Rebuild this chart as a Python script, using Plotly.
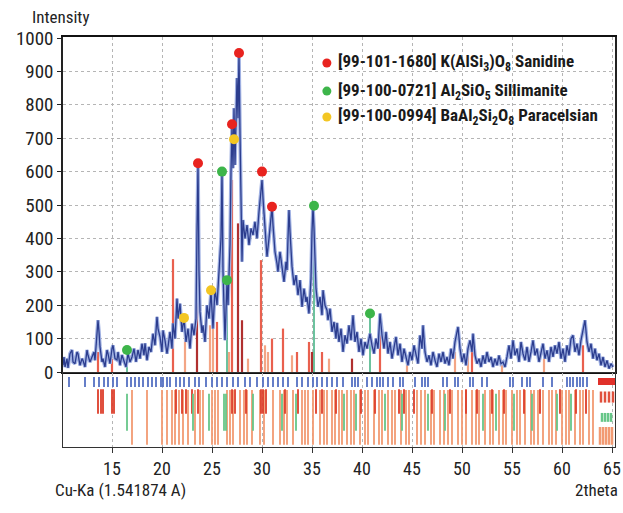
import plotly.graph_objects as go
from plotly.subplots import make_subplots

two_theta = [10.1, 10.2, 10.3, 10.5, 10.6, 10.8, 11.0, 11.1, 11.3, 11.5, 11.6, 11.8, 12.0, 12.1, 12.3,
             12.5, 12.6, 12.8, 13.0, 13.2, 13.3, 13.5, 13.6, 13.7, 13.8, 14.0, 14.1, 14.3, 14.5, 14.6,
             14.8, 15.0, 15.1, 15.3, 15.5, 15.6, 15.8, 16.0, 16.2, 16.4, 16.6, 16.8, 17.0, 17.2, 17.4,
             17.6, 17.8, 18.0, 18.2, 18.3, 18.5, 18.7, 18.9, 19.1, 19.3, 19.5, 19.6, 19.8, 20.0, 20.1,
             20.3, 20.5, 20.6, 20.8, 21.0, 21.1, 21.3, 21.5, 21.6, 21.8, 22.0, 22.2, 22.4, 22.6, 22.8,
             23.0, 23.2, 23.4, 23.5, 23.6, 23.7, 23.8, 24.0, 24.1, 24.3, 24.5, 24.7, 24.9, 25.1, 25.3,
             25.5, 25.7, 25.9, 26.0, 26.1, 26.3, 26.5, 26.6, 26.8, 26.9, 27.0, 27.1, 27.2, 27.3, 27.5,
             27.6, 27.7, 27.8, 27.9, 28.0, 28.1, 28.3, 28.5, 28.7, 28.9, 29.1, 29.3, 29.5, 29.7, 29.9,
             30.0, 30.1, 30.3, 30.5, 30.7, 30.9, 31.0, 31.1, 31.3, 31.5, 31.6, 31.8, 32.0, 32.2, 32.4,
             32.5, 32.6, 32.7, 32.8, 33.0, 33.2, 33.4, 33.6, 33.8, 34.0, 34.2, 34.4, 34.5, 34.7, 34.9,
             35.0, 35.1, 35.2, 35.4, 35.6, 35.8, 36.0, 36.1, 36.3, 36.5, 36.6, 36.8, 37.0, 37.2, 37.4,
             37.5, 37.7, 37.9, 38.1, 38.3, 38.5, 38.7, 38.9, 39.1, 39.3, 39.5, 39.7, 39.9, 40.1, 40.3,
             40.5, 40.7, 40.8, 41.0, 41.2, 41.4, 41.6, 41.8, 42.0, 42.2, 42.4, 42.6, 42.8, 43.0, 43.2,
             43.4, 43.6, 43.8, 44.0, 44.2, 44.4, 44.6, 44.8, 45.0, 45.2, 45.4, 45.6, 45.8, 46.0, 46.1,
             46.3, 46.5, 46.7, 46.9, 47.1, 47.3, 47.5, 47.7, 47.9, 48.1, 48.3, 48.5, 48.7, 48.9, 49.1,
             49.3, 49.5, 49.6, 49.8, 50.0, 50.2, 50.4, 50.6, 50.8, 51.0, 51.1, 51.3, 51.5, 51.7, 51.9,
             52.1, 52.3, 52.5, 52.7, 52.9, 53.1, 53.3, 53.5, 53.7, 53.9, 54.1, 54.3, 54.5, 54.7, 54.9,
             55.1, 55.3, 55.5, 55.7, 55.9, 56.1, 56.3, 56.5, 56.7, 56.9, 57.1, 57.3, 57.5, 57.7, 57.9,
             58.1, 58.3, 58.5, 58.7, 58.9, 59.1, 59.3, 59.5, 59.7, 59.9, 60.1, 60.3, 60.5, 60.7, 60.9,
             61.1, 61.3, 61.5, 61.7, 61.9, 62.1, 62.3, 62.5, 62.7, 62.9, 63.1, 63.3, 63.5, 63.7, 63.9,
             64.1, 64.3, 64.5, 64.7, 64.9, 65.1]
intensity = [20, 45, 15, 40, 12, 55, 66, 30, 25, 60, 55, 20, 40, 35, 15,
             66, 50, 30, 45, 60, 35, 110, 155, 120, 75, 30, 40, 15, 66, 55,
             25, 70, 80, 40, 36, 60, 20, 51, 35, 15, 55, 30, 45, 70, 30,
             66, 40, 85, 50, 86, 35, 75, 60, 115, 80, 165, 130, 105, 60, 125,
             95, 55, 75, 120, 70, 146, 100, 220, 160, 205, 120, 160, 90, 130, 70,
             145, 110, 160, 420, 620, 300, 180, 117, 140, 90, 200, 160, 240, 130, 250,
             200, 320, 400, 598, 300, 95, 270, 200, 380, 600, 738, 610, 790, 620, 880,
             760, 950, 715, 500, 330, 455, 400, 440, 380, 430, 410, 450, 400, 480, 540,
             575, 520, 420, 345, 400, 470, 493, 440, 360, 325, 300, 360, 316, 270, 330,
             305, 400, 485, 420, 316, 260, 290, 230, 275, 195, 250, 210, 225, 175, 280,
             420, 495, 430, 250, 195, 225, 170, 245, 200, 185, 155, 190, 120, 150, 100,
             147, 90, 130, 60, 110, 85, 140, 95, 170, 90, 120, 60, 100, 50, 90,
             70, 100, 115, 80, 55, 100, 70, 175, 110, 70, 120, 55, 90, 40, 75,
             105, 50, 85, 30, 70, 45, 20, 60, 35, 80, 50, 25, 110, 70, 140,
             60, 30, 50, 20, 60, 35, 15, 55, 30, 60, 25, 45, 20, 70, 40,
             90, 130, 135, 70, 30, 55, 20, 70, 95, 60, 115, 50, 25, 40, 15,
             50, 25, 60, 30, 45, 15, 40, 20, 50, 25, 30, 15, 45, 80, 40,
             95, 50, 70, 30, 90, 55, 35, 75, 30, 60, 95, 50, 70, 30, 60,
             85, 40, 65, 30, 75, 45, 80, 55, 90, 40, 70, 30, 80, 50, 100,
             110, 60, 85, 50, 95, 130, 155, 90, 60, 85, 40, 70, 35, 55, 20,
             45, 15, 35, 10, 25, 15]

# ---------------- identified phases (marker positions) ----------------
san_x = [23.6, 27.0, 27.7, 30.0, 31.0]
san_y = [625, 742, 955, 600, 495]
sil_x = [16.5, 26.0, 26.5, 35.2, 40.8]
sil_y = [66, 600, 275, 498, 175]
par_x = [22.2, 24.9, 27.2]
par_y = [162, 245, 697]
legend_labels = ["[99-101-1680] K(AlSi<sub>3</sub>)O<sub>8</sub> Sanidine",
                 "[99-100-0721] Al<sub>2</sub>SiO<sub>5</sub> Sillimanite",
                 "[99-100-0994] BaAl<sub>2</sub>Si<sub>2</sub>O<sub>8</sub> Paracelsian"]
legend_colors = ["#e8231f", "#3db54a", "#f3c623"]

# reference sticks in main panel
red_stick_x = [13.6, 15.0, 21.1, 25.5, 27.0, 29.9, 31.0, 32.1, 33.5, 34.7, 36.0, 41.8, 51.0, 62.1]
red_stick_y = [60, 40, 338, 150, 575, 335, 100, 130, 60, 90, 60, 160, 70, 80]
dred_stick_x = [23.5, 27.6, 28.0, 35.0, 39.0]
dred_stick_y = [445, 445, 155, 60, 40]
orange_stick_x = [22.3, 24.8, 25.1, 26.7, 28.6, 30.3, 30.6, 33.0, 36.7, 44.5, 49.3, 50.6, 54.0, 58.2]
orange_stick_y = [110, 140, 130, 60, 40, 80, 60, 50, 40, 40, 60, 80, 30, 40]
green_stem_x = [16.5, 26.5, 35.2, 40.8]
green_stem_y = [66, 275, 498, 175]

# lower reference panel
blue_ticks = [10.7, 12.3, 13.2, 13.7, 14.2, 14.6, 15.1, 15.5, 16.5, 16.9, 17.3, 17.7, 18.1, 18.6, 19.0,
              19.4, 19.9, 20.1, 20.5, 20.8, 21.4, 21.8, 22.2, 22.7, 23.3, 23.7, 24.4, 25.0, 25.5, 26.0,
              26.5, 27.1, 27.6, 28.3, 28.8, 29.5, 30.1, 30.6, 31.1, 31.6, 32.1, 32.6, 33.5, 34.0, 34.6,
              35.1, 35.5, 36.0, 36.5, 37.0, 37.5, 38.1, 39.0, 39.3, 39.6, 40.5, 41.0, 41.5, 41.8, 42.1,
              42.6, 43.1, 43.8, 44.1, 45.3, 46.0, 46.3, 46.6, 48.1, 48.5, 49.3, 49.6, 50.8, 51.1, 52.0,
              52.5, 54.8, 55.1, 56.0, 56.5, 56.8, 58.1, 59.0, 60.5, 60.8, 61.1, 61.5, 61.8, 62.1, 62.5]
orange_ref = [17.0, 18.5, 20.0, 20.5, 21.0, 21.3, 21.7, 22.1, 22.6, 23.3, 23.8, 24.1, 25.0, 25.3, 25.6,
              26.5, 26.8, 27.1, 27.8, 28.2, 28.5, 29.0, 29.8, 30.2, 31.1, 31.8, 32.2, 32.5, 33.1, 34.0,
              34.3, 34.6, 35.1, 35.8, 36.2, 36.5, 37.0, 37.3, 37.7, 38.0, 38.5, 38.9, 39.2, 39.8, 40.3,
              40.6, 41.2, 41.7, 42.0, 42.6, 43.0, 43.3, 43.9, 44.4, 44.7, 45.5, 45.9, 46.3, 46.9, 47.2,
              47.8, 48.2, 48.6, 49.0, 49.6, 50.0, 50.4, 51.0, 51.4, 51.7, 52.3, 52.8, 53.1, 53.7, 54.1,
              54.4, 55.0, 55.5, 55.8, 56.3, 56.9, 57.2, 57.6, 58.1, 58.7, 59.0, 59.4, 60.0, 60.4, 60.7,
              61.3, 61.8, 62.1, 62.7, 63.1]
red_ref = [13.6, 13.9, 14.1, 15.0, 15.2, 21.4, 22.0, 22.4, 23.0, 23.6, 27.0, 27.3, 28.4, 29.9, 30.1,
           30.4, 32.3, 33.6, 35.4, 36.0, 37.4, 39.9, 41.3, 43.7, 44.2, 45.2, 47.0, 48.8, 50.4, 51.5,
           53.0, 54.2, 56.2, 57.8, 59.8, 61.4, 62.4]
green_ref = [16.5, 23.1, 24.7, 26.2, 26.4, 29.1, 32.0, 33.4, 38.2, 39.4, 42.3, 44.0, 46.6, 48.3, 52.1,
             53.4, 55.2, 57.0, 59.5, 60.9]
key_red_bar = [63.6, 65.3]
key_red_ticks = [63.9, 64.3, 64.7, 65.1]
key_green_ticks = [64.0, 64.3, 64.6, 64.9]
key_orange_ticks = [63.8, 64.1, 64.4, 64.7, 65.0]

FONT = "Roboto Condensed, Liberation Sans Narrow, Arial Narrow, Roboto, sans-serif"


def sticks(xs, y0, y1s):
    xx, yy = [], []
    for i, x in enumerate(xs):
        top = y1s[i] if isinstance(y1s, list) else y1s
        xx += [x, x, None]
        yy += [y0, top, None]
    return xx, yy


fig = make_subplots(rows=2, cols=1, shared_xaxes=True)

# reference sticks (top panel)
for xs, ys, col, w in [(orange_stick_x, orange_stick_y, "#f3a585", 2.2),
                       (red_stick_x, red_stick_y, "#e9604e", 2.2),
                       (dred_stick_x, dred_stick_y, "#b0302f", 2.2),
                       (green_stem_x, green_stem_y, "#48b386", 1.6)]:
    sx, sy = sticks(xs, 0, ys)
    fig.add_trace(go.Scatter(x=sx, y=sy, mode="lines", line=dict(color=col, width=w),
                             hoverinfo="skip", showlegend=False), row=1, col=1)

# pattern: halo + line
fig.add_trace(go.Scatter(x=two_theta, y=intensity, mode="lines",
                         line=dict(color="#9fb0e2", width=3.6), hoverinfo="skip",
                         showlegend=False), row=1, col=1)
fig.add_trace(go.Scatter(x=two_theta, y=intensity, mode="lines",
                         line=dict(color="#2c3d8e", width=1.3), showlegend=False), row=1, col=1)

for xs, ys, col in [(san_x, san_y, legend_colors[0]), (sil_x, sil_y, legend_colors[1]),
                    (par_x, par_y, legend_colors[2])]:
    fig.add_trace(go.Scatter(x=xs, y=ys, mode="markers",
                             marker=dict(color=col, size=10, line=dict(width=0)),
                             showlegend=False), row=1, col=1)

# lower panel
for xs, y0, y1, col, w in [(orange_ref, 0.03, 0.77, "#f29a72", 1.8),
                           (red_ref, 0.45, 0.78, "#dd3d2a", 1.8),
                           (green_ref, 0.22, 0.72, "#66c688", 1.8),
                           (blue_ticks, 0.81, 0.945, "#5570c2", 1.8),
                           (key_red_ticks, 0.6, 0.75, "#e0503c", 2.5),
                           (key_green_ticks, 0.34, 0.46, "#66c688", 2.5),
                           (key_orange_ticks, 0.03, 0.27, "#f29a72", 2.5)]:
    sx, sy = sticks(xs, y0, y1)
    fig.add_trace(go.Scatter(x=sx, y=sy, mode="lines", line=dict(color=col, width=w),
                             hoverinfo="skip", showlegend=False), row=2, col=1)
fig.add_trace(go.Scatter(x=key_red_bar, y=[0.885, 0.885], mode="lines",
                         line=dict(color="#e0302a", width=7), hoverinfo="skip",
                         showlegend=False), row=2, col=1)

grid = dict(showgrid=True, gridcolor="#b5b5b5", griddash="dot", gridwidth=1)
fig.update_xaxes(range=[10.1, 65.3], dtick=5, tick0=15, **grid, zeroline=False, automargin=False)
fig.update_xaxes(row=1, col=1, showticklabels=False, showline=True, linecolor="#111",
                 linewidth=2, mirror=True, ticks="")
fig.update_xaxes(row=2, col=1, showticklabels=True, showline=True, linecolor="#333",
                 linewidth=1.2, mirror=True, ticks="outside", ticklen=5, tickcolor="#333",
                 tickfont=dict(family=FONT, size=18, color="#222"))
fig.update_yaxes(row=1, col=1, range=[0, 1003], dtick=100, **grid, zeroline=False,
                 showline=True, linecolor="#222", linewidth=1.5, mirror=True,
                 ticks="outside", ticklen=4, tickcolor="#222", automargin=False,
                 tickfont=dict(family=FONT, size=19, color="#222"), domain=[0.1829, 1])
fig.update_yaxes(row=2, col=1, range=[0, 1], showticklabels=False, showgrid=False,
                 zeroline=False, showline=True, linecolor="#333", linewidth=1.2, mirror=True,
                 domain=[0, 0.1805], automargin=False)

annotations = [
    dict(text="Intensity", x=-0.005, y=1.049, xref="paper", yref="paper", showarrow=False,
         xanchor="center", yanchor="middle", font=dict(family=FONT, size=17, color="#222")),
    dict(text="Cu-Ka (1.541874 A)", x=-0.018, y=-0.105, xref="paper", yref="paper",
         showarrow=False, xanchor="left", yanchor="middle",
         font=dict(family=FONT, size=17, color="#222")),
    dict(text="2theta", x=1.009, y=-0.105, xref="paper", yref="paper", showarrow=False,
         xanchor="right", yanchor="middle", font=dict(family=FONT, size=17, color="#222")),
]
shapes = []
leg_y = [0.9366, 0.868, 0.805]
for lab, col, yy in zip(legend_labels, legend_colors, leg_y):
    annotations.append(dict(text="<b>" + lab + "</b>", x=0.494, y=yy, xref="paper", yref="paper",
                            showarrow=False, xanchor="left", yanchor="middle",
                            font=dict(family=FONT, size=17, color="#1a1a1a")))
    shapes.append(dict(type="circle", xref="paper", yref="paper", xsizemode="pixel",
                       ysizemode="pixel", xanchor=0.478, yanchor=yy, x0=-4.5, x1=4.5,
                       y0=-4.5, y1=4.5, fillcolor=col, line=dict(width=0)))

fig.update_layout(width=623, height=513, margin=dict(l=63, r=8, t=37, b=66, autoexpand=False),
                  paper_bgcolor="white", plot_bgcolor="white", showlegend=False,
                  annotations=annotations, shapes=shapes,
                  font=dict(family=FONT, color="#222"))

fig.write_html("out.html", config={"displayModeBar": False},
               post_script="document.body.style.margin='0';document.body.style.overflow='hidden';")
